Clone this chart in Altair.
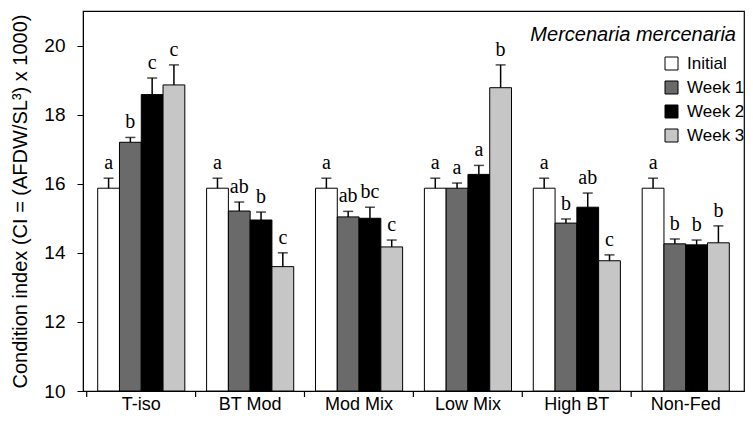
import altair as alt
import pandas as pd

cats = ["T-iso", "BT Mod", "Mod Mix", "Low Mix", "High BT", "Non-Fed"]
weeks = ["Initial", "Week 1", "Week 2", "Week 3"]
colors = ["#ffffff", "#6a6a6a", "#000000", "#c6c6c6"]

mean_initial = [15.87, 15.87, 15.87, 15.87, 15.87, 15.87]
mean_week1 = [17.20, 15.21, 15.04, 15.87, 14.86, 14.26]
mean_week2 = [18.58, 14.95, 15.00, 16.27, 15.32, 14.23]
mean_week3 = [18.86, 13.60, 14.17, 18.78, 13.77, 14.29]

se_initial = [0.29, 0.29, 0.29, 0.29, 0.29, 0.29]
se_week1 = [0.14, 0.26, 0.16, 0.15, 0.12, 0.14]
se_week2 = [0.48, 0.23, 0.32, 0.26, 0.41, 0.14]
se_week3 = [0.58, 0.40, 0.20, 0.66, 0.17, 0.49]

let_initial = ["a", "a", "a", "a", "a", "a"]
let_week1 = ["b", "ab", "ab", "a", "b", "b"]
let_week2 = ["c", "b", "bc", "a", "ab", "b"]
let_week3 = ["c", "c", "c", "b", "c", "b"]

means = [mean_initial, mean_week1, mean_week2, mean_week3]
ses = [se_initial, se_week1, se_week2, se_week3]
lets = [let_initial, let_week1, let_week2, let_week3]

rows = []
for i, c in enumerate(cats):
    for j, w in enumerate(weeks):
        m = means[j][i]
        s = ses[j][i]
        rows.append({"cat": c, "week": w, "mean": m, "upper": round(m + s, 3), "letter": lets[j][i]})
df = pd.DataFrame(rows)

W = 661
H = 380

xenc = alt.X("cat:N", sort=cats,
             scale=alt.Scale(paddingInner=0.2, paddingOuter=0.135),
             axis=alt.Axis(title=None, ticks=False, tickSize=0, labelPadding=4,
                           labelFontSize=18, labelAngle=0, domainColor="black",
                           labelColor="black", labelFont="Liberation Sans"))
xo = alt.XOffset("week:N", sort=weeks, scale=alt.Scale(paddingInner=0, paddingOuter=0))
yscale = alt.Scale(domain=[10, 21], nice=False, zero=False)

base = alt.Chart(df)

bars = base.mark_bar(stroke="black", strokeWidth=1).encode(
    x=xenc, xOffset=xo,
    y=alt.Y("mean:Q", scale=yscale,
            axis=alt.Axis(values=[10, 12, 14, 16, 18, 20], grid=False,
                          title="Condition index (CI = (AFDW/SL³) x 1000)",
                          titleFontSize=20, titleFontWeight="normal",
                          titleFont="Liberation Sans", titleColor="black",
                          titlePadding=13,
                          tickSize=6, tickColor="black", labelPadding=12,
                          labelFontSize=19, labelColor="black",
                          labelFont="Liberation Sans", domainColor="black")),
    y2=alt.datum(10),
    fill=alt.Fill("week:N", sort=weeks, scale=alt.Scale(domain=weeks, range=colors),
                  legend=alt.Legend(title=None, orient="none", legendX=580, legendY=44,
                                    symbolType="square", symbolSize=169,
                                    symbolStrokeColor="black", symbolStrokeWidth=1,
                                    symbolOpacity=1,
                                    labelFontSize=17, labelFont="Liberation Sans",
                                    labelColor="black", rowPadding=6, padding=0,
                                    labelOffset=7)),
)

err = base.mark_rule(color="black", strokeWidth=1.5).encode(
    x=xenc, xOffset=xo, y=alt.Y("mean:Q", scale=yscale), y2="upper:Q")

cap = base.mark_tick(color="black", thickness=1.5, size=10).encode(
    x=xenc, xOffset=xo, y=alt.Y("upper:Q", scale=yscale))

letters = base.mark_text(font="Liberation Serif", fontSize=20, dy=-9,
                         baseline="alphabetic", color="black").encode(
    x=xenc, xOffset=xo, y=alt.Y("upper:Q", scale=yscale), text="letter:N")

ticks = alt.Chart(pd.DataFrame({"cat": cats})).mark_rule(
    color="black", strokeWidth=1.2, xOffset=-11).encode(
    x=alt.X("cat:N", sort=cats, bandPosition=0),
    y=alt.value(H), y2=alt.value(H + 6))

title_df = pd.DataFrame({"t": ["Mercenaria mercenaria"]})
title = alt.Chart(title_df).mark_text(align="right", fontStyle="italic", fontSize=20,
                                      font="Liberation Sans", color="black",
                                      baseline="alphabetic").encode(
    x=alt.value(W - 8), y=alt.value(30), text="t:N")

chart = alt.layer(bars, err, cap, letters, ticks, title).properties(
    width=W, height=H,
    autosize=alt.AutoSizeParams(type="none"),
    padding={"left": 75, "top": 3, "right": 1, "bottom": 24},
).configure_view(stroke="black", strokeWidth=1.2).configure_axis(grid=False)

chart.save("out.html", embed_options={"renderer": "svg", "actions": False})
